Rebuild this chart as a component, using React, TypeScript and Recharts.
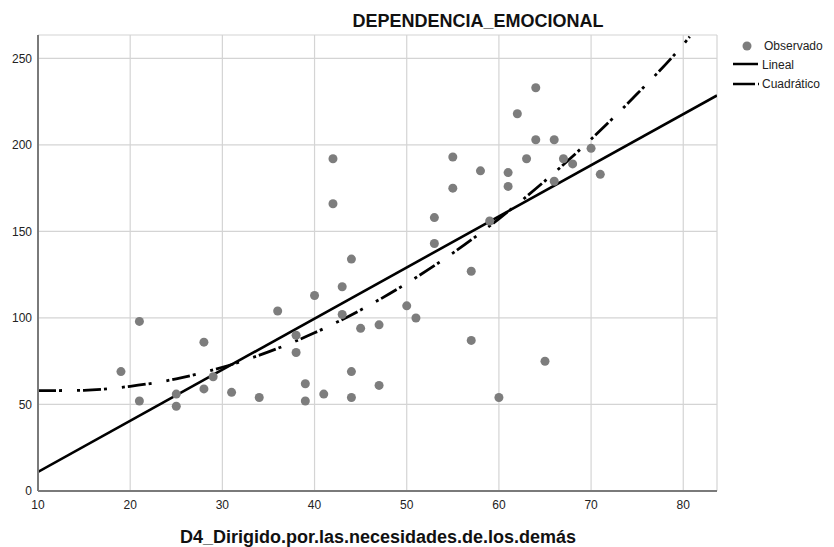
import {
  ComposedChart,
  Scatter,
  Line,
  XAxis,
  YAxis,
  CartesianGrid,
} from 'recharts';

// observed points (D4 score, DEPENDENCIA_EMOCIONAL)
const obsX = [
  19, 21, 21, 25, 25, 28, 28, 29, 31, 34, 36, 38, 38, 39, 39, 40, 41, 42, 42, 43, 43, 44, 44, 44, 45, 47,
  47, 50, 51, 53, 53, 55, 55, 57, 57, 58, 59, 60, 61, 61, 62, 63, 65, 64, 64, 66, 66, 67, 68, 70, 71,
];
const obsY = [
  69, 98, 52, 56, 49, 86, 59, 66, 57, 54, 104, 90, 80, 62, 52, 113, 56, 192, 166, 118, 102, 134, 69, 54, 94, 96,
  61, 107, 100, 158, 143, 193, 175, 127, 87, 185, 156, 54, 184, 176, 218, 192, 75, 233, 203, 203, 179, 192, 189, 198, 183,
];

// fitted lines
const linX = [10, 83.66];
const linY = [11, 228.6];

const quadX = [10, 15, 20, 25, 30, 35, 40, 45, 50, 55, 60, 65, 70, 75, 80, 80.7];
const quadY = [58, 58.2, 60.5, 64.8, 71.5, 80.4, 91.4, 104.6, 120, 137.5, 157.3, 179.2, 203.3, 229.5, 258, 262.5];

const xTicks = [10, 20, 30, 40, 50, 60, 70, 80];
const yTicks = [0, 50, 100, 150, 200, 250];

const FONT = "'Liberation Sans', Arial, sans-serif";
const DOT = '#7d7d7d';
const DASH = '18 3 3 15 3 3';

const observed = obsX.map((x, i) => ({ x, y: obsY[i] }));
const lineal = linX.map((x, i) => ({ x, y: linY[i] }));
const cuadratico = quadX.map((x, i) => ({ x, y: quadY[i] }));

function LegendBox() {
  return (
    <svg width={106} height={60} style={{ position: 'absolute', left: 728, top: 36, overflow: 'visible' }}>
      <circle cx={19} cy={10} r={4.5} fill={DOT} />
      <text x={36} y={10} dy="0.35em" fontSize={12} fill="#222" fontFamily={FONT}>
        Observado
      </text>
      <line x1={5} x2={30} y1={28} y2={28} stroke="#000" strokeWidth={2.5} />
      <text x={34} y={29} dy="0.35em" fontSize={12} fill="#222" fontFamily={FONT}>
        Lineal
      </text>
      <line x1={5} x2={31} y1={48} y2={48} stroke="#000" strokeWidth={2.5} strokeDasharray="22 3 3 20" />
      <text x={34} y={48} dy="0.35em" fontSize={12} fill="#222" fontFamily={FONT}>
        Cuadrático
      </text>
    </svg>
  );
}

export default function App() {
  return (
    <div style={{ position: 'absolute', left: 0, top: 0, width: 834, height: 547, background: '#fff', fontFamily: FONT }}>
      <div
        style={{
          position: 'absolute',
          left: 478,
          top: 21,
          transform: 'translate(-50%, -50%)',
          fontSize: 18,
          fontWeight: 'bold',
          color: '#111',
          whiteSpace: 'nowrap',
        }}
      >
        DEPENDENCIA_EMOCIONAL
      </div>
      <ComposedChart width={834} height={547} margin={{ top: 35, right: 117, bottom: 26, left: 8 }}>
        <CartesianGrid stroke="#d4d4d4" strokeWidth={1.2} />
        <XAxis
          type="number"
          dataKey="x"
          domain={[10, 83.66]}
          ticks={xTicks}
          height={30}
          tickSize={0}
          tickMargin={9}
          tick={{ fontSize: 12, fill: '#222', fontFamily: FONT }}
          axisLine={{ stroke: '#7a7a7a', strokeWidth: 2 }}
          tickLine={false}
          allowDataOverflow
        />
        <YAxis
          type="number"
          dataKey="y"
          domain={[0, 263.5]}
          ticks={yTicks}
          width={30}
          tickSize={0}
          tickMargin={6}
          tick={{ fontSize: 12, fill: '#222', fontFamily: FONT }}
          axisLine={{ stroke: '#7a7a7a', strokeWidth: 2 }}
          tickLine={false}
          allowDataOverflow
        />
        <Scatter
          data={observed}
          dataKey="y"
          fill={DOT}
          isAnimationActive={false}
          shape={(p: any) => <circle cx={p.cx} cy={p.cy} r={4.5} fill={DOT} />}
        />
        <Line
          data={lineal}
          dataKey="y"
          type="linear"
          stroke="#000"
          strokeWidth={2.6}
          dot={false}
          activeDot={false}
          isAnimationActive={false}
        />
        <Line
          data={cuadratico}
          dataKey="y"
          type="monotone"
          stroke="#000"
          strokeWidth={2.8}
          strokeDasharray={DASH}
          dot={false}
          activeDot={false}
          isAnimationActive={false}
        />
      </ComposedChart>
      <LegendBox />
      <div
        style={{
          position: 'absolute',
          left: 378,
          top: 537,
          transform: 'translate(-50%, -50%)',
          fontSize: 18,
          fontWeight: 'bold',
          color: '#111',
          whiteSpace: 'nowrap',
        }}
      >
        D4_Dirigido.por.las.necesidades.de.los.demás
      </div>
    </div>
  );
}
